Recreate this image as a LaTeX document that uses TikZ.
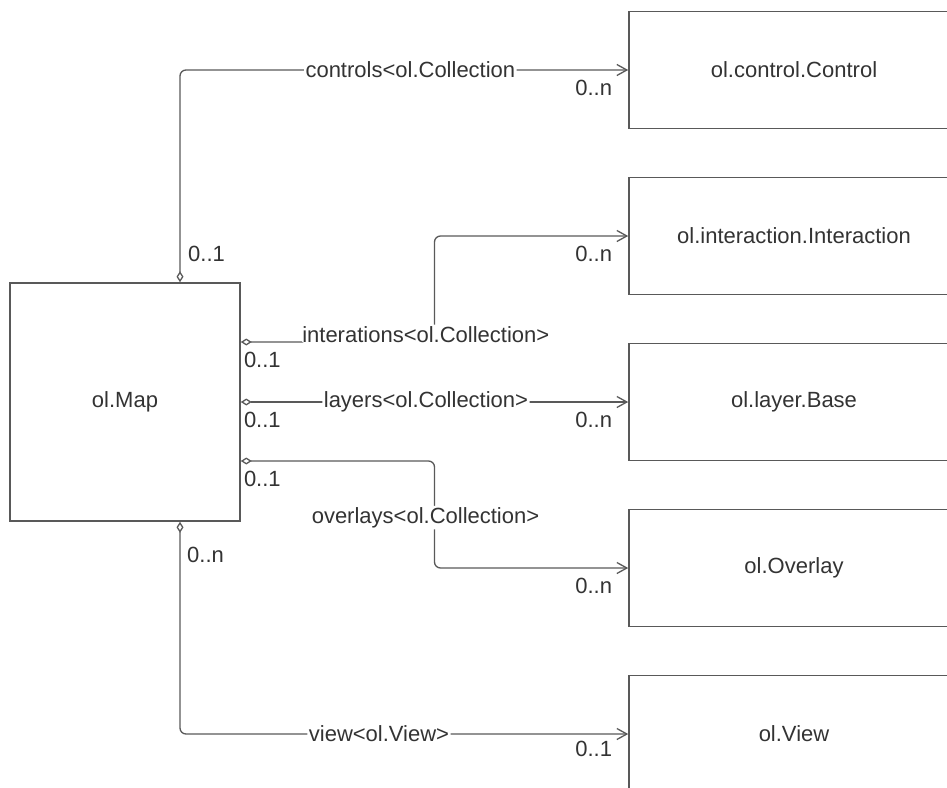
\documentclass[tikz,border=0pt]{standalone}
\usepackage{fontspec}
\setmainfont{Liberation Sans}
\usetikzlibrary{arrows.meta, positioning, calc}

\begin{document}
\begin{tikzpicture}[x=1pt, y=-1pt, node distance=47.4pt, font=\fontsize{22}{26}\selectfont,
  cls/.style={draw=black!65, line width=1.6pt, minimum width=330pt, minimum height=117pt, inner sep=0pt, text=black!80},
  assoc/.style={draw=black!65, line width=1.3pt, rounded corners=6pt,
    {Diamond[open, length=11pt, width=7pt]}-{Straight Barb[length=10pt, width=11pt]}},
  role/.style={fill=white, inner sep=1.5pt, text=black!80},
  mult/.style={inner sep=1pt, text=black!80}]
\useasboundingbox (0,0) rectangle (947,787);
\clip (0,0) rectangle (947,787);
\node[cls, minimum width=230pt, minimum height=238pt] (map) at (125,402) {ol.Map};
\node[cls] (ctrl) at (794,70) {ol.control.Control};
\node[cls, below=of ctrl] (inter) {ol.interaction.Interaction};
\node[cls, below=of inter] (layer) {ol.layer.Base};
\node[cls, below=of layer] (over) {ol.Overlay};
\node[cls, below=of over] (view) {ol.View};
\coordinate (pc) at ([xshift=55pt]map.north);
\coordinate (pv) at ([xshift=55pt]map.south);
\coordinate (pi) at ([yshift=60pt]map.east);
\coordinate (po) at ([yshift=-59pt]map.east);
\coordinate (bend) at ($(map.east)!.5!(layer.west)$);
\draw[assoc] (pc) |- node[role, pos=0.757] {controls<ol.Collection} (ctrl.west);
\draw[assoc] (pi) -- node[role, anchor=base, pos=0.955] {interations<ol.Collection>} (pi -| bend) |- (inter.west);
\draw[assoc] (map.east) -- node[role, pos=0.478] {layers<ol.Collection>} (layer.west);
\draw[assoc] (po) -- (po -| bend) -- node[role, pos=0.53, xshift=-9pt] {overlays<ol.Collection>} (bend |- over.west) -- (over.west);
\draw[assoc] (pv) |- node[role, pos=0.722] {view<ol.View>\hspace{6pt}} (view.west);
% multiplicities
\node[mult, anchor=south west] (mc) at ([xshift=7pt, yshift=19pt]pc) {0..1};
\node[mult, anchor=north west] (mi) at ([xshift=2pt, yshift=-9pt]pi) {0..1};
\node[mult, anchor=north west] (ml) at ([xshift=2pt, yshift=-9pt]map.east) {0..1};
\node[mult, anchor=north west] (mo) at ([xshift=2pt, yshift=-9pt]po) {0..1};
\node[mult, anchor=north west] (mv) at ([xshift=6pt, yshift=-24pt]pv) {0..n};
\node[mult, anchor=north east] (nc) at ([xshift=-15pt, yshift=-9pt]ctrl.west) {0..n};
\node[mult, anchor=north east] (ni) at ([xshift=-15pt, yshift=-9pt]inter.west) {0..n};
\node[mult, anchor=north east] (nl) at ([xshift=-15pt, yshift=-9pt]layer.west) {0..n};
\node[mult, anchor=north east] (no) at ([xshift=-15pt, yshift=-9pt]over.west) {0..n};
\node[mult, anchor=north east] (nv) at ([xshift=-15pt, yshift=-6pt]view.west) {0..1};
\end{tikzpicture}
\end{document}
